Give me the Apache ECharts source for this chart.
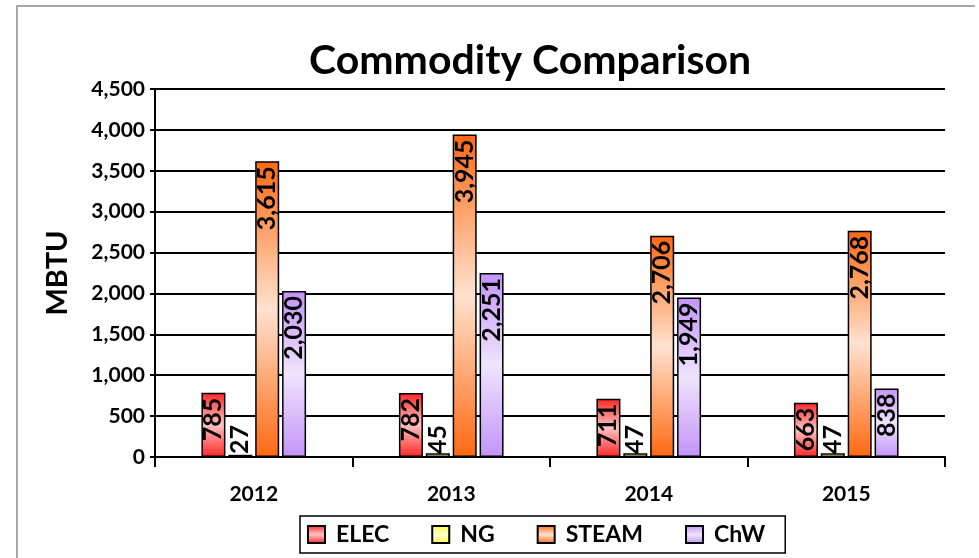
<!DOCTYPE html>
<html>
<head>
<meta charset="utf-8">
<script src="https://cdn.jsdelivr.net/npm/echarts@6/dist/echarts.min.js"></script>
<style>
  html, body { margin: 0; padding: 0; background: #fff; }
  #chart { width: 979px; height: 558px; }
</style>
</head>
<body>
<div id="chart"></div>
<script>
// commodity usage per year, MBTU
var years = ['2012', '2013', '2014', '2015'];
var elec = [785, 782, 711, 663];
var ng = [27, 45, 47, 47];
var steam = [3615, 3945, 2706, 2768];
var chw = [2030, 2251, 1949, 838];

var font = 'Lato, "Open Sans", sans-serif';

// excel style "dark - light - dark" fill
function grad(dark, light) {
    return new echarts.graphic.LinearGradient(0, 0, 0, 1, [
        { offset: 0, color: dark },
        { offset: 0.5, color: light },
        { offset: 1, color: dark }
    ]);
}

function fmt(v) {
    return v.toString().replace(/\B(?=(\d{3})+(?!\d))/g, ',');
}

var labelTop = {
    show: true,
    position: 'insideTop',
    rotate: 90,
    align: 'right',
    verticalAlign: 'middle',
    distance: 5,
    color: '#000',
    fontFamily: font,
    fontSize: 25,
    fontWeight: 'bold',
    formatter: function (p) { return fmt(p.value); }
};

var labelBottom = Object.assign({}, labelTop, {
    position: 'insideBottom',
    align: 'left',
    distance: 3
});

function bar(name, data, dark, light, label) {
    return {
        name: name,
        type: 'bar',
        data: data,
        barWidth: 24,
        barGap: '12%',
        itemStyle: { color: grad(dark, light), borderColor: '#000', borderWidth: 1.5 },
        label: label
    };
}

var chart = echarts.init(document.getElementById('chart'));
chart.setOption({
    animation: false,
    backgroundColor: '#fff',
    graphic: [{
        type: 'polyline',
        shape: { points: [[17, 558], [17, 6], [975, 6]] },
        style: { stroke: '#a6a6a6', lineWidth: 2, fill: null }
    }],
    title: {
        text: 'Commodity Comparison',
        left: 304,
        top: 35,
        textStyle: { fontFamily: font, fontSize: 41, fontWeight: 'bold', color: '#000' }
    },
    legend: {
        bottom: 5,
        left: 300,
        icon: 'rect',
        itemWidth: 17,
        itemHeight: 17,
        itemGap: 42,
        padding: [7, 20, 7, 7],
        borderColor: '#000',
        borderWidth: 1.5,
        textStyle: { fontFamily: font, fontSize: 23, fontWeight: 'bold', color: '#000', padding: [0, 0, 0, 6] },
        data: ['ELEC', 'NG', 'STEAM', 'ChW']
    },
    grid: { left: 155, right: 34, top: 89, bottom: 101 },
    xAxis: {
        type: 'category',
        data: years,
        axisLine: { lineStyle: { color: '#000', width: 2 } },
        axisTick: { show: true, length: 10, lineStyle: { color: '#000', width: 2 } },
        axisLabel: { fontFamily: font, fontSize: 21, fontWeight: 'bold', color: '#000', margin: 27 }
    },
    yAxis: {
        type: 'value',
        min: 0,
        max: 4500,
        interval: 500,
        name: 'MBTU',
        nameLocation: 'middle',
        nameGap: 83,
        nameTextStyle: { fontFamily: font, fontSize: 29, fontWeight: 'bold', color: '#000' },
        axisLine: { show: true, lineStyle: { color: '#000', width: 2 } },
        axisTick: { show: true, length: 5, lineStyle: { color: '#000', width: 2 } },
        axisLabel: { fontFamily: font, fontSize: 21, fontWeight: 'bold', color: '#000', margin: 10, formatter: fmt },
        splitLine: { lineStyle: { color: '#000', width: 2 } }
    },
    series: [
        bar('ELEC', elec, '#ff2626', '#ffc2c2', labelTop),
        bar('NG', ng, '#ffff33', '#ffffd2', labelBottom),
        bar('STEAM', steam, '#ff6810', '#ffe2cf', labelTop),
        bar('ChW', chw, '#c393f8', '#efe4fd', labelTop)
    ]
});
</script>
</body>
</html>
